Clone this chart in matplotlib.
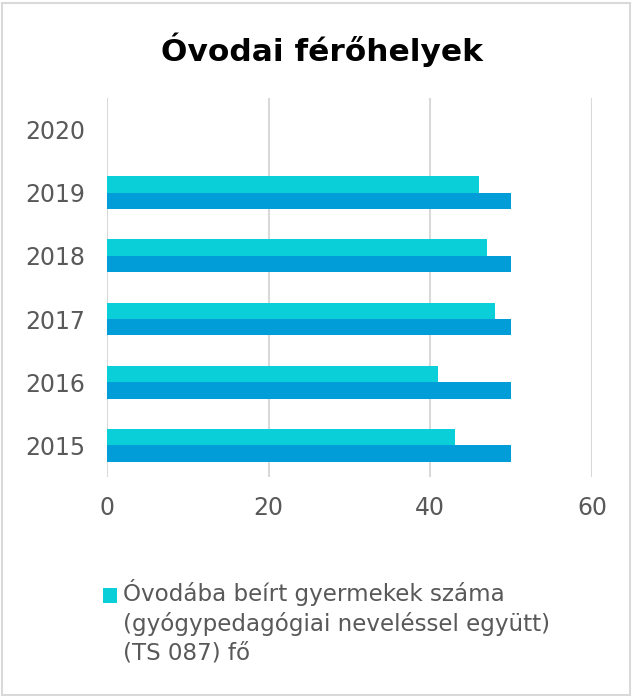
import matplotlib
matplotlib.use("Agg")
import matplotlib.pyplot as plt
from matplotlib.patches import Patch, Rectangle
from matplotlib.legend_handler import HandlerPatch
import numpy as np

years = ["2015", "2016", "2017", "2018", "2019", "2020"]
enrolled = [43, 41, 48, 47, 46, np.nan]      # cyan series
capacity = [50, 50, 50, 50, 50, np.nan]      # blue series
legend_label = "Óvodába beírt gyermekek száma\n(gyógypedagógiai neveléssel együtt)\n(TS 087) fő"
title = "Óvodai férőhelyek"
xticks = [0, 20, 40, 60]

CYAN = "#0BCFD8"
BLUE = "#009DD9"
GRAY = "#595959"
LEG_FS = 16.6
LEG_LS = 1.3

plt.rcParams['font.family'] = ['DejaVu Sans']


class TopHandler(HandlerPatch):
    def create_artists(self, legend, orig_handle, xdescent, ydescent, width, height, fontsize, trans):
        p = Rectangle((-xdescent, -ydescent + LEG_LS * fontsize - 0.12 * fontsize), width, height,
                      facecolor=orig_handle.get_facecolor(), edgecolor="none", transform=trans)
        return [p]


fig = plt.figure(figsize=(6.32, 6.96), dpi=100)
fig.patches.append(Rectangle((0.003, 0.002), 0.994, 0.994, transform=fig.transFigure,
                             fill=False, edgecolor="#D9D9D9", linewidth=1.5))
ax = fig.add_axes([0.1693, 0.3147, 0.7674, 0.5445])

y = np.arange(len(years))
h = 0.26
ax.barh(y - h / 2, capacity, height=h, color=BLUE, zorder=3)
ax.barh(y + h / 2, enrolled, height=h, color=CYAN, zorder=3, label=legend_label)

ax.set_xlim(0, 60)
ax.set_ylim(-0.5, len(years) - 0.5)
ax.set_yticks(y)
ax.set_yticklabels(years)
ax.set_xticks(xticks)
ax.tick_params(axis="both", length=0, labelsize=17, labelcolor=GRAY)
ax.tick_params(axis="y", pad=15.5)
ax.tick_params(axis="x", pad=14)
ax.grid(axis="x", color="#D9D9D9", linewidth=1.5, zorder=0)
for s in ax.spines.values():
    s.set_visible(False)

fig.text(0.51, 0.928, title, ha="center", va="center", fontsize=22.5, fontweight="bold", color="black")

handle = Patch(facecolor=CYAN, edgecolor="none")
leg = fig.legend([handle], [legend_label], loc="upper left", bbox_to_anchor=(0.163, 0.168),
                 frameon=False, fontsize=LEG_FS, labelcolor=GRAY, handlelength=0.6,
                 handleheight=0.6, handletextpad=0.25, borderaxespad=0, borderpad=0,
                 handler_map={Patch: TopHandler()})
for t in leg.get_texts():
    t.set_linespacing(LEG_LS)

fig.savefig("out.png", dpi=100)
